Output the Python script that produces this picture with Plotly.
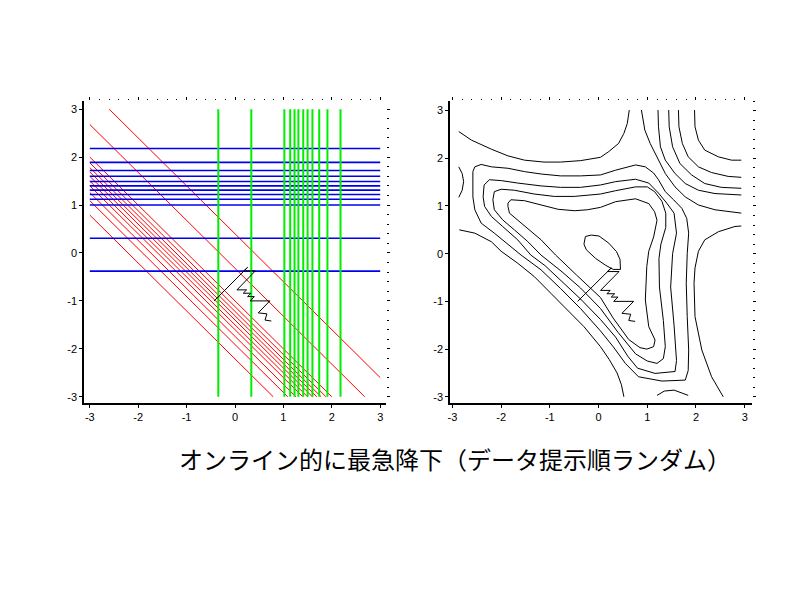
import plotly.graph_objects as go

# ---------------- data ----------------
tick_vals = [-3, -2, -1, 0, 1, 2, 3]
tick_text = ["-3", "-2", "-1", "0", "1", "2", "3"]

# left panel: sample-wise "lines" (x = g, y = b, x + y = c)
green_x = [-0.345, 0.337, 1.02, 1.14, 1.23, 1.31, 1.41, 1.50, 1.60, 1.74, 1.91, 2.18]
blue_y = [-0.38, 0.306, 1.00, 1.12, 1.22, 1.31, 1.40, 1.49, 1.60, 1.72, 1.89, 2.18]
red_c = [0.40, -0.32, -1.00, -1.12, -1.22, -1.31, -1.40, -1.50, -1.60, -1.74, -1.91, -2.21]
span_lo, span_hi = -3.0, 3.0

# online steepest-descent path
path_x = [-0.43, 0.26, 0.18, 0.42, 0.04, 0.24, 0.17, 0.33, 0.26, 0.40, 0.31, 0.72, 0.48, 0.66, 0.62, 0.75]
path_y = [-1.00, -0.30, -0.375, -0.375, -0.77, -0.77, -0.84, -0.84, -0.91, -0.91, -1.00, -1.00, -1.25, -1.27, -1.40, -1.42]

# right panel: contour curves
cA_x = [-2.87, -2.61, -2.20, -1.86, -1.52, -1.12, -0.78, -0.37, 0.04, 0.21, 0.41, 0.52, 0.59, 0.63]
cA_y = [2.56, 2.38, 2.19, 2.05, 1.96, 1.92, 1.92, 1.95, 2.02, 2.14, 2.31, 2.52, 2.73, 3.01]
cB_x = [-2.87, -2.80, -2.77, -2.80, -2.87]
cB_y = [1.82, 1.68, 1.51, 1.33, 1.18]
cE_x = [-2.86, -2.54, -2.20, -2.00, -1.66, -1.32, -0.98, -0.64, -0.30, 0.04, 0.22, 0.38, 0.47, 0.52]
cE_y = [0.50, 0.43, 0.25, 0.05, -0.20, -0.48, -0.83, -1.18, -1.53, -1.95, -2.22, -2.50, -2.75, -3.00]
cG_x = [2.93, 2.80, 2.46, 2.18, 2.05, 1.98, 1.96, 1.98, 2.12, 2.32, 2.56]
cG_y = [0.58, 0.57, 0.46, 0.29, 0.05, -0.30, -0.62, -1.32, -2.02, -2.58, -3.00]
cT0_x = [0.88, 0.95, 1.06, 1.23, 1.37, 1.57, 1.78, 2.05, 2.39, 2.93]
cT0_y = [3.01, 2.59, 2.31, 1.96, 1.68, 1.40, 1.19, 1.02, 0.92, 0.85]
cT1_x = [1.22, 1.23, 1.27, 1.37, 1.57, 1.78, 2.05, 2.39, 2.93]
cT1_y = [3.01, 2.66, 2.24, 1.96, 1.68, 1.47, 1.33, 1.26, 1.23]
cT2_x = [1.44, 1.45, 1.52, 1.67, 1.91, 2.18, 2.52, 2.93]
cT2_y = [3.01, 2.66, 2.24, 1.89, 1.65, 1.47, 1.39, 1.37]
cT3_x = [1.64, 1.65, 1.72, 1.84, 2.05, 2.32, 2.66, 2.93]
cT3_y = [3.01, 2.66, 2.31, 2.03, 1.82, 1.70, 1.62, 1.60]
cT4_x = [1.97, 1.98, 2.05, 2.18, 2.46, 2.73, 2.93]
cT4_y = [3.01, 2.66, 2.38, 2.17, 2.03, 1.96, 1.96]
cL1_x = [-2.41, -2.20, -1.86, -1.52, -1.18, -0.78, -0.37, 0.04, 0.35, 0.76, 0.96, 1.13, 1.23, 1.37, 1.54, 1.71, 1.81,
         1.85, 1.82, 1.80, 1.82, 1.85, 1.84, 1.78, 1.30, 0.82, 0.55, 0.30, 0.04, -0.37, -0.78, -1.18, -1.59, -1.80,
         -2.14, -2.41, -2.54, -2.58, -2.58, -2.54, -2.41]
cL1_y = [1.87, 1.82, 1.79, 1.72, 1.67, 1.63, 1.63, 1.65, 1.75, 1.86, 1.82, 1.69, 1.55, 1.30, 1.13, 0.95, 0.74,
         0.43, 0.00, -0.62, -1.32, -2.02, -2.45, -2.65, -2.67, -2.58, -2.30, -1.95, -1.62, -1.15, -0.73, -0.34, -0.03, 0.15,
         0.43, 0.64, 0.92, 1.19, 1.72, 1.82, 1.87]
cL2_x = [-2.24, -1.99, -1.66, -1.18, -0.78, -0.37, 0.04, 0.35, 0.76, 1.03, 1.23, 1.40, 1.55, 1.60, 1.52, 1.48, 1.55,
         1.60, 1.57, 1.16, 0.80, 0.60, 0.35, 0.04, -0.37, -0.78, -1.10, -1.39, -1.66, -1.97, -2.20, -2.34, -2.37,
         -2.35, -2.24]
cL2_y = [1.55, 1.53, 1.48, 1.42, 1.39, 1.39, 1.44, 1.51, 1.56, 1.48, 1.27, 1.06, 0.85, 0.43, 0.00, -0.70, -1.50,
         -2.24, -2.47, -2.51, -2.40, -2.15, -1.75, -1.38, -0.95, -0.55, -0.25, -0.03, 0.29, 0.57, 0.78, 0.99, 1.19,
         1.44, 1.55]
cL3_x = [-2.00, -1.73, -1.32, -0.91, -0.50, 0.04, 0.35, 0.76, 1.00, 1.15, 1.30, 1.38, 1.38, 1.28, 1.24, 1.25, 1.33,
         1.37, 1.33, 1.20, 1.00, 0.76, 0.40, 0.04, -0.37, -0.75, -1.18, -1.46, -1.73, -1.97, -2.14, -2.17, -2.14, -2.00]
cL3_y = [1.35, 1.33, 1.25, 1.20, 1.20, 1.25, 1.32, 1.40, 1.40, 1.30, 1.10, 0.85, 0.55, 0.20, -0.10, -0.70, -1.40,
         -1.95, -2.20, -2.30, -2.25, -2.10, -1.65, -1.15, -0.72, -0.38, -0.03, 0.26, 0.50, 0.71, 0.92, 1.13, 1.30, 1.35]
cL4_x = [-1.86, -1.80, -1.52, -1.18, -0.83, -0.49, -0.23, 0.04, 0.35, 0.76, 1.03, 1.15, 1.20, 1.13, 1.03, 0.99,
         0.96, 1.03, 1.16, 1.13, 0.99, 0.85, 0.62, 0.30, 0.04, -0.45, -0.88, -1.18, -1.42, -1.66, -1.83, -1.86, -1.86]
cL4_y = [1.06, 1.13, 1.11, 1.02, 0.93, 0.90, 0.92, 0.97, 1.09, 1.15, 1.05, 0.88, 0.70, 0.35, 0.05, -0.27,
         -0.97, -1.53, -1.81, -1.95, -2.00, -1.97, -1.80, -1.35, -0.92, -0.45, -0.03, 0.29, 0.50, 0.71, 0.85, 0.99, 1.06]
cS_x = [-0.27, -0.15, 0.01, 0.21, 0.37, 0.44, 0.45, 0.30, 0.14, -0.06, -0.25, -0.30, -0.27]
cS_y = [0.36, 0.39, 0.37, 0.22, 0.04, -0.12, -0.33, -0.33, -0.24, -0.10, 0.08, 0.20, 0.36]
cU_x = [1.20, 1.35, 1.55, 1.84]
cU_y = [-2.97, -2.88, -2.86, -2.97]

contours = [(cA_x, cA_y), (cB_x, cB_y), (cE_x, cE_y), (cG_x, cG_y), (cT0_x, cT0_y), (cT1_x, cT1_y),
            (cT2_x, cT2_y), (cT3_x, cT3_y), (cT4_x, cT4_y), (cL1_x, cL1_y), (cL2_x, cL2_y), (cL3_x, cL3_y),
            (cL4_x, cL4_y), (cS_x, cS_y), (cU_x, cU_y)]

title_text = "オンライン的に最急降下（データ提示順ランダム）"

# ---------------- figure ----------------
fig = go.Figure()

def line(x, y, color, width, xa="x", ya="y"):
    fig.add_trace(go.Scatter(x=x, y=y, mode="lines", line=dict(color=color, width=width),
                             xaxis=xa, yaxis=ya, hoverinfo="skip", showlegend=False))

for c in red_c:
    x0 = max(span_lo, c - span_hi)
    x1 = min(span_hi, c - span_lo)
    line([x0, x1], [c - x0, c - x1], "#ff0000", 1)
for b in blue_y:
    line([span_lo, span_hi], [b, b], "#0000f0", 1.6)
for g in green_x:
    line([g, g], [span_lo, span_hi], "#00ee00", 2)
line(path_x, path_y, "black", 1)

for cx, cy in contours:
    line(cx, cy, "black", 1, "x2", "y2")
line(path_x, path_y, "black", 1, "x2", "y2")

# dummy traces for the tick-only top/right frames
fig.add_trace(go.Scatter(x=[0], y=[0], mode="markers", marker=dict(opacity=0), xaxis="x3", yaxis="y3",
                         hoverinfo="skip", showlegend=False))
fig.add_trace(go.Scatter(x=[0], y=[0], mode="markers", marker=dict(opacity=0), xaxis="x4", yaxis="y4",
                         hoverinfo="skip", showlegend=False))

tick_font = dict(family="Liberation Sans, Arial, sans-serif", size=11, color="black")
# figure is 784x584 so that it sits inside the page's 8px body margin
W, H = 784, 584
def px_x(p):
    return (p - 8) / W
def px_y(p):
    return 1 - (p - 8) / H

ydom = [px_y(403), px_y(101)]
xdom1 = [px_x(84), px_x(386)]
xdom2 = [px_x(450), px_x(752)]
xr1 = [-3.12, 3.12]
yr1 = [-3.13, 3.17]
xr2 = [-3.05, 3.15]
yr2 = [-3.13, 3.20]

def main_axis(domain, rng, anchor):
    return dict(domain=domain, range=rng, anchor=anchor, showline=True, linecolor="black", linewidth=1.5,
                ticks="outside", ticklen=3, tickcolor="black", tickvals=tick_vals, ticktext=tick_text,
                tickfont=tick_font, showgrid=False, zeroline=False, fixedrange=True, automargin=False)

def frame_axis(rng, overlay, side, anchor):
    return dict(range=rng, overlaying=overlay, side=side, anchor=anchor, showline=False, ticks="outside",
                ticklen=3, tickcolor="black", dtick=1, tick0=0, showticklabels=False, showgrid=False,
                zeroline=False, automargin=False,
                minor=dict(dtick=0.2, ticklen=1.5, ticks="outside", tickcolor="black"))

fig.update_layout(
    width=W, height=H, margin=dict(l=0, r=0, t=0, b=0, pad=0, autoexpand=False),
    paper_bgcolor="white", plot_bgcolor="white", showlegend=False,
    xaxis=main_axis(xdom1, xr1, "y"),
    yaxis=main_axis(ydom, yr1, "x"),
    xaxis2=main_axis(xdom2, xr2, "y2"),
    yaxis2=main_axis(ydom, yr2, "x2"),
    xaxis3=frame_axis(xr1, "x", "top", "y"),
    yaxis3=frame_axis(yr1, "y", "right", "x"),
    xaxis4=frame_axis(xr2, "x2", "top", "y2"),
    yaxis4=frame_axis(yr2, "y2", "right", "x2"),
    annotations=[dict(text=title_text, x=px_x(455), y=px_y(458), xref="paper", yref="paper", showarrow=False,
                      xanchor="center", yanchor="middle",
                      font=dict(family="Noto Sans CJK JP", size=24, color="black"))],
)

fig.write_html("out.html")
